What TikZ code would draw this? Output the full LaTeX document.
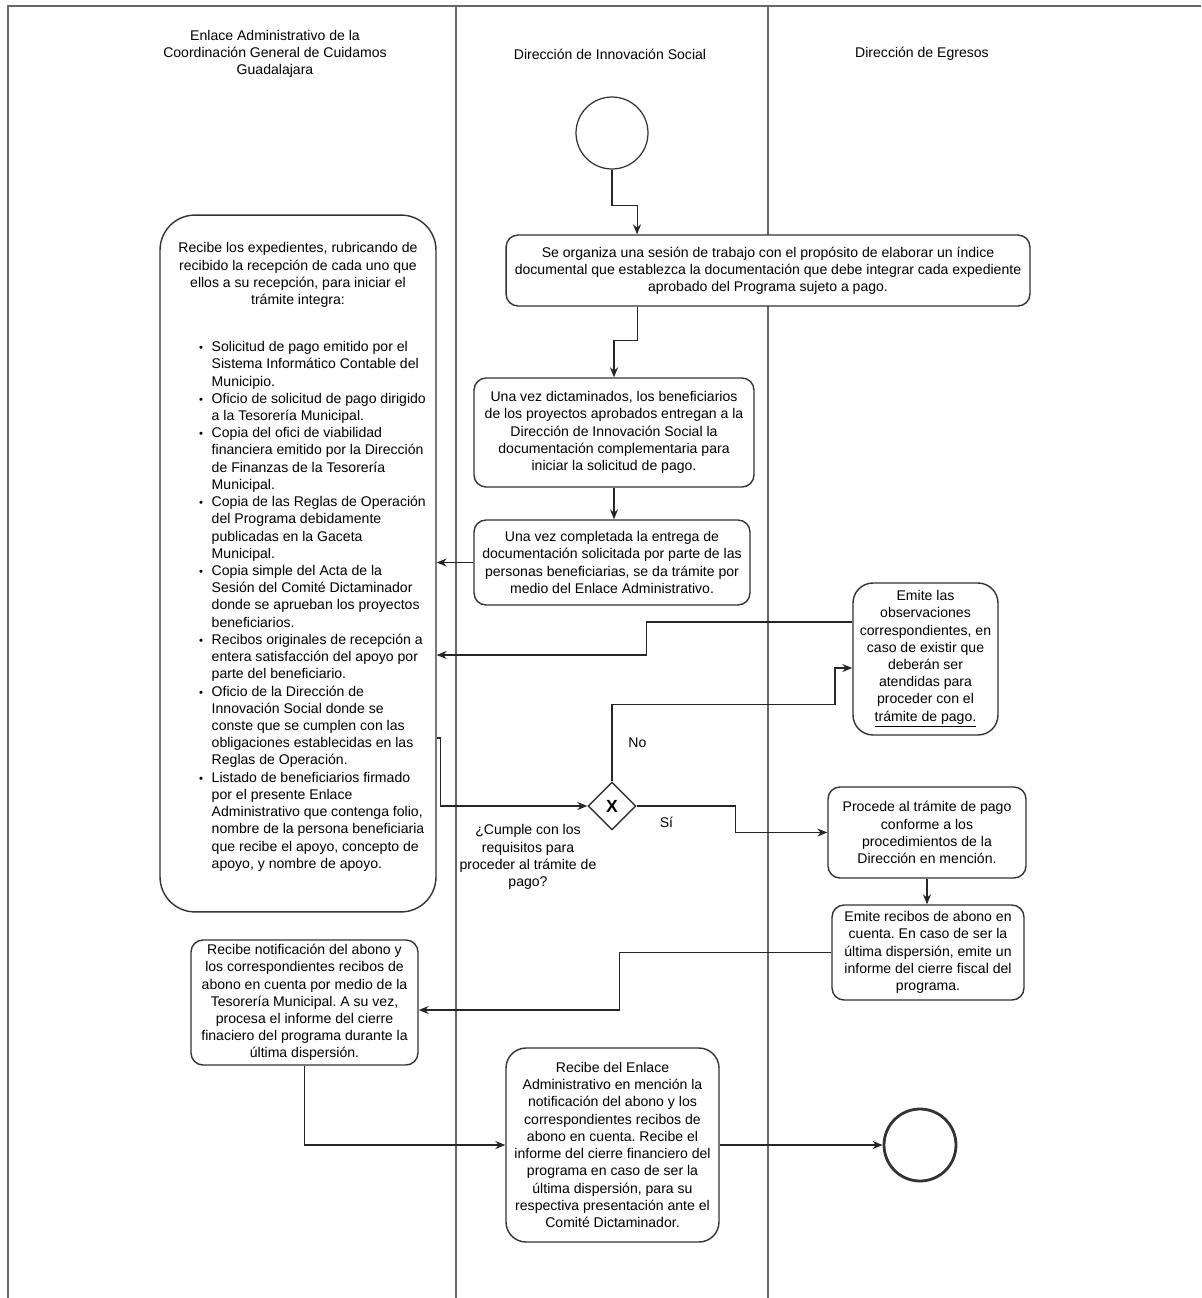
\documentclass[tikz,border=0pt]{standalone}
\usepackage{fontspec}
\setmainfont{Liberation Sans}
\usetikzlibrary{arrows.meta,shapes.geometric}
\frenchspacing

\begin{document}
\begin{tikzpicture}[x=0.02cm,y=-0.02cm,
	font=\fontsize{8}{9.8}\selectfont,
	caja/.style={draw=black!80,fill=white,line width=0.8pt,rounded corners=0.24cm,align=center,inner sep=1pt},
	evento/.style={circle,draw=black!80,fill=white,minimum size=1.44cm,inner sep=0pt},
	flecha/.style={draw=black!85,line width=0.6pt,-{Stealth[length=0.2cm,width=0.16cm]}},
	carril/.style={draw=black!60,line width=0.7pt}]
	\useasboundingbox (0,0) rectangle (1201,1298);
	\draw[carril] (8,1298) -- (8,6) -- (1201,6);
	\draw[carril] (456,6) -- (456,1298);
	\draw[carril] (768,6) -- (768,1298);

	\node[align=center] (hEnlace) at (275,54) {Enlace Administrativo de la\\Coordinación General de Cuidamos\\Guadalajara};
	\node (hInnovacion) at (610,54) {Dirección de Innovación Social};
	\node (hEgresos) at (922,54) {Dirección de Egresos};

	\node[evento,line width=0.7pt] (inicio) at (612,133) {};
	\node[caja,minimum width=10.48cm,minimum height=1.42cm] (sesion) at (768,270.5) {Se organiza una sesión de trabajo con el propósito de elaborar un índice\\documental que establezca la documentación que debe integrar cada expediente\\aprobado del Programa sujeto a pago.};
	\node[caja,minimum width=5.6cm,minimum height=2.18cm] (dictamen) at (614,432.5) {Una vez dictaminados, los beneficiarios\\de los proyectos aprobados entregan a la\\Dirección de Innovación Social la\\documentación complementaria para\\iniciar la solicitud de pago.};
	\node[caja,minimum width=5.52cm,minimum height=1.7cm] (entrega) at (612,562.5) {Una vez completada la entrega de\\documentación solicitada por parte de las\\personas beneficiarias, se da trámite por\\medio del Enlace Administrativo.};
	\node[caja,rounded corners=0.7cm,minimum width=5.52cm,minimum height=13.94cm] (enlace) at (298,563.5) {%
		\begin{minipage}{5.2cm}
		\centering Recibe los expedientes, rubricando de\\recibido la recepción de cada uno que\\ellos a su recepción, para iniciar el\\trámite integra:\par
		\vspace{0.61cm}
		\raggedright\hspace*{0.62cm}%
		\begin{tabular}{@{}c@{\hspace{5pt}}l@{}}
			\scalebox{0.8}{\textbullet} & Solicitud de pago emitido por el\\
			 & Sistema Informático Contable del\\
			 & Municipio.\\
			\scalebox{0.8}{\textbullet} & Oficio de solicitud de pago dirigido\\
			 & a la Tesorería Municipal.\\
			\scalebox{0.8}{\textbullet} & Copia del ofici de viabilidad\\
			 & financiera emitido por la Dirección\\
			 & de Finanzas de la Tesorería\\
			 & Municipal.\\
			\scalebox{0.8}{\textbullet} & Copia de las Reglas de Operación\\
			 & del Programa debidamente\\
			 & publicadas en la Gaceta\\
			 & Municipal.\\
			\scalebox{0.8}{\textbullet} & Copia simple del Acta de la\\
			 & Sesión del Comité Dictaminador\\
			 & donde se aprueban los proyectos\\
			 & beneficiarios.\\
			\scalebox{0.8}{\textbullet} & Recibos originales de recepción a\\
			 & entera satisfacción del apoyo por\\
			 & parte del beneficiario.\\
			\scalebox{0.8}{\textbullet} & Oficio de la Dirección de\\
			 & Innovación Social donde se\\
			 & conste que se cumplen con las\\
			 & obligaciones establecidas en las\\
			 & Reglas de Operación.\\
			\scalebox{0.8}{\textbullet} & Listado de beneficiarios firmado\\
			 & por el presente Enlace\\
			 & Administrativo que contenga folio,\\
			 & nombre de la persona beneficiaria\\
			 & que recibe el apoyo, concepto de\\
			 & apoyo, y nombre de apoyo.
		\end{tabular}\par
		\vspace{0.22cm}
		\end{minipage}};
	\node[caja,rounded corners=0.4cm,minimum width=2.9cm,minimum height=3.04cm] (observ) at (925.5,659) {Emite las\\observaciones\\correspondientes, en\\caso de existir que\\deberán ser\\atendidas para\\proceder con el\\\underline{trámite de pago.}};
	\node[diamond,draw=black!80,fill=white,line width=0.8pt,minimum width=0.96cm,minimum height=0.96cm,inner sep=0pt,font=\bfseries\fontsize{10}{10}\selectfont] (decision) at (612,806) {X};
	\node[align=center] (pregunta) at (528,857) {¿Cumple con los\\requisitos para\\proceder al trámite de\\pago?};
	\node[caja,minimum width=3.96cm,minimum height=1.82cm] (procede) at (927,832.5) {Procede al trámite de pago\\conforme a los\\procedimientos de la\\Dirección en mención.};
	\node[caja,minimum width=3.84cm,minimum height=1.9cm] (recibos) at (928,952.5) {Emite recibos de abono en\\cuenta. En caso de ser la\\última dispersión, emite un\\informe del cierre fiscal del\\programa.};
	\node[caja,minimum width=4.54cm,minimum height=2.5cm] (notif) at (304.5,1002.5) {Recibe notificación del abono y\\los correspondientes recibos de\\abono en cuenta por medio de la\\Tesorería Municipal. A su vez,\\procesa el informe del cierre\\finaciero del programa durante la\\última dispersión.};
	\node[caja,rounded corners=0.4cm,minimum width=4.26cm,minimum height=3.88cm] (informe) at (612.5,1145) {Recibe del Enlace\\Administrativo en mención la\\notificación del abono y los\\correspondientes recibos de\\abono en cuenta. Recibe el\\informe del cierre financiero del\\programa en caso de ser la\\última dispersión, para su\\respectiva presentación ante el\\Comité Dictaminador.};
	\node[evento,line width=1.6pt] (fin) at (920,1145) {};

	\draw[flecha] (inicio.south) -- ++(0,36) -| ([xshift=-2.62cm]sesion.north);
	\draw[flecha] ([xshift=-2.62cm]sesion.south) -- ++(0,34) -| (dictamen.north);
	\draw[flecha] (dictamen.south) -- (dictamen.south |- entrega.north);
	\draw[flecha] (entrega.west) -- (entrega.west -| enlace.east);
	\draw[flecha] ([yshift=0.74cm]observ.west) -- ++(-206,0) |- ([yshift=-1.83cm]enlace.east);
	\draw[flecha] ([yshift=-3.49cm]enlace.east) -- ++(4,0) |- (decision.west);
	\draw[flecha] (decision.north) -- node[right=0.2cm] {No} ++(0,-77) -- ++(223,0) |- ([yshift=-0.18cm]observ.west);
	\draw[flecha] (decision.east) -- node[pos=0.3,below=0.1cm] {Sí} ++(99,0) |- (procede.west);
	\draw[flecha] (procede.south) -- (procede.south |- recibos.north);
	\draw[flecha] (recibos.west) -- ++(-212,0) |- ([yshift=-0.15cm]notif.east);
	\draw[flecha] (notif.south) |- (informe.west);
	\draw[flecha] (informe.east) -- (fin.west);
\end{tikzpicture}
\end{document}
